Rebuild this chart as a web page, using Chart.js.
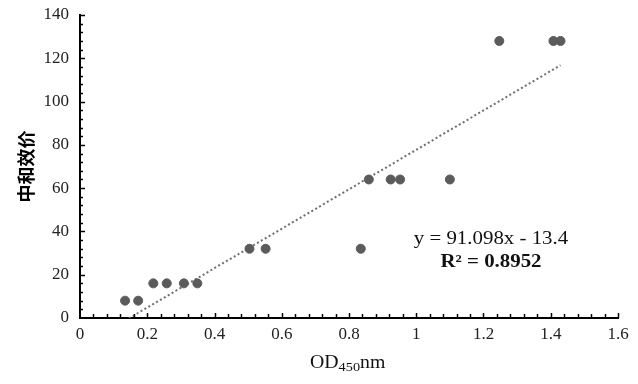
<!DOCTYPE html>
<html>
<head>
<meta charset="utf-8">
<script src="https://cdn.jsdelivr.net/npm/chart.js@4.4.1/dist/chart.umd.min.js"></script>
<style>
html,body{margin:0;padding:0;background:#fff;}
#wrap{width:638px;height:384px;position:relative;}
</style>
</head>
<body>
<div id="wrap"><canvas id="c" width="638" height="384"></canvas></div>
<script>
// ---- data ----
const odValues = [0.134, 0.173, 0.218, 0.258, 0.309, 0.349, 0.504, 0.552, 0.835, 0.859, 0.924, 0.952, 1.100, 1.247, 1.408, 1.429];
const titerValues = [8, 8, 16, 16, 16, 16, 32, 32, 32, 64, 64, 64, 64, 128, 128, 128];
const xTickLabels = ["0", "0.2", "0.4", "0.6", "0.8", "1", "1.2", "1.4", "1.6"];
const yTickLabels = ["0", "20", "40", "60", "80", "100", "120", "140"];
const trendSlope = 91.098;
const trendIntercept = -13.4;
const equationText = "y = 91.098x - 13.4";
const r2Text = "R² = 0.8952";
const yTitle = "中和效价";
const xTitleParts = ["OD", "450", "nm"];

const points = odValues.map((x, i) => ({x: x, y: titerValues[i]}));
const xMin = Math.min(...odValues), xMax = Math.max(...odValues);
const trend = [xMin, xMax].map(x => ({x: x, y: trendSlope * x + trendIntercept}));

const serif = "'Liberation Serif', 'Times New Roman', serif";

const decor = {
  id: 'decor',
  afterDraw(chart) {
    const ctx = chart.ctx;
    const xs = chart.scales.x, ys = chart.scales.y;
    const area = chart.chartArea;
    ctx.save();
    // inside tick marks
    ctx.strokeStyle = '#000';
    ctx.lineWidth = 1.5;
    for (let i = 1; i <= 40; i++) {
      const v = i * 0.04;
      const px = Math.round(xs.getPixelForValue(v)) + 0.5;
      const len = (i % 5 === 0) ? 5 : 4;
      ctx.beginPath();
      ctx.moveTo(px, area.bottom);
      ctx.lineTo(px, area.bottom - len);
      ctx.stroke();
    }
    for (let i = 1; i <= 35; i++) {
      const v = i * 4;
      const py = Math.round(ys.getPixelForValue(v)) + 0.5;
      const len = (i % 5 === 0) ? 5 : 3;
      ctx.beginPath();
      ctx.moveTo(area.left, py);
      ctx.lineTo(area.left + len, py);
      ctx.stroke();
    }
    // y title
    ctx.fillStyle = '#000';
    ctx.font = "bold 18px 'Noto Sans CJK SC', sans-serif";
    ctx.textAlign = 'center';
    ctx.textBaseline = 'middle';
    ctx.translate(26, (area.top + area.bottom) / 2);
    ctx.rotate(-Math.PI / 2);
    ctx.fillText(yTitle, 0, 0);
    ctx.setTransform(1, 0, 0, 1, 0, 0);
    // x title with subscript
    ctx.textAlign = 'left';
    ctx.textBaseline = 'alphabetic';
    ctx.fillStyle = '#111';
    const big = "18px " + serif, small = "13px " + serif;
    ctx.translate(310, 368);
    ctx.scale(1.1, 1);
    ctx.font = big; const w1 = ctx.measureText(xTitleParts[0]).width;
    ctx.font = small; const w2 = ctx.measureText(xTitleParts[1]).width;
    ctx.font = big; ctx.fillText(xTitleParts[0], 0, 0);
    ctx.font = small; ctx.fillText(xTitleParts[1], w1, 3);
    ctx.font = big; ctx.fillText(xTitleParts[2], w1 + w2, 0);
    ctx.setTransform(1, 0, 0, 1, 0, 0);
    // equation
    ctx.textAlign = 'center';
    ctx.translate(491, 0);
    ctx.scale(1.16, 1);
    ctx.font = "18px " + serif;
    ctx.fillText(equationText, 0, 244);
    ctx.font = "bold 18px " + serif;
    ctx.fillText(r2Text, 0, 267);
    ctx.restore();
  }
};

new Chart(document.getElementById('c'), {
  data: {
    datasets: [
      {
        type: 'scatter',
        data: points,
        backgroundColor: '#5b5b5b',
        borderColor: '#5b5b5b',
        pointRadius: 4.5,
        pointHoverRadius: 4.5,
        order: 1
      },
      {
        type: 'line',
        data: trend,
        borderColor: '#6e6e6e',
        borderWidth: 2,
        borderDash: [2, 2.5],
        pointRadius: 0,
        fill: false,
        order: 2
      }
    ]
  },
  options: {
    responsive: false,
    animation: false,
    events: [],
    layout: {padding: {top: 15, right: 20, left: 0, bottom: 0}},
    plugins: {legend: {display: false}, tooltip: {enabled: false}, title: {display: false}},
    scales: {
      x: {
        type: 'linear',
        min: 0, max: 1.6,
        ticks: {
          stepSize: 0.2,
          color: '#222',
          font: {family: serif, size: 17},
          padding: 6,
          maxRotation: 0,
          callback: (v, i) => xTickLabels[i]
        },
        grid: {display: false, drawTicks: false},
        border: {display: true, color: '#000', width: 2},
        afterFit: s => { s.height = 66; s.paddingLeft = 0; s.paddingRight = 0; }
      },
      y: {
        type: 'linear',
        min: 0, max: 140,
        ticks: {
          stepSize: 20,
          color: '#222',
          font: {family: serif, size: 17},
          padding: 11,
          callback: (v, i) => yTickLabels[i]
        },
        grid: {display: false, drawTicks: false},
        border: {display: true, color: '#000', width: 2},
        afterFit: s => { s.width = 80; s.paddingTop = 0; s.paddingBottom = 0; }
      }
    }
  },
  plugins: [decor]
});
</script>
</body>
</html>
